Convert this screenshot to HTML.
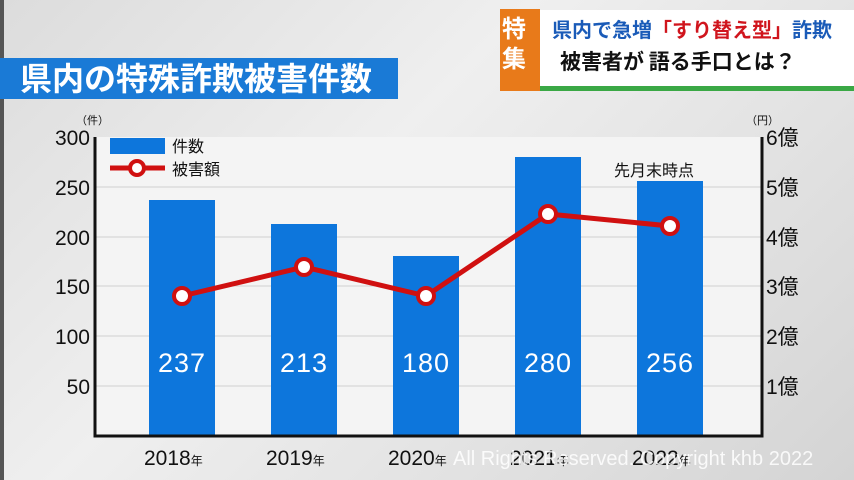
<!DOCTYPE html>
<html><head><meta charset="utf-8"><style>
body{margin:0;width:854px;height:480px;overflow:hidden;background:linear-gradient(135deg,#dcdcdc,#efefef 40%,#e2e2e2 70%,#d4d4d4);font-family:"Liberation Sans","Noto Sans CJK JP",sans-serif;position:relative}
.a{position:absolute}
</style></head><body>
<div class="a" style="left:0;top:0;width:4px;height:480px;background:#555"></div>
<div class="a" style="left:0;top:58px;width:398px;height:41px;background:#1a7ad6"></div>
<div class="a" style="left:20px;top:56px;color:#fff;font-size:32px;font-weight:bold;letter-spacing:0px;font-family:'Noto Sans CJK JP',sans-serif;line-height:42px">県内の特殊詐欺被害件数</div>
<div class="a" style="left:500px;top:9px;width:40px;height:82px;background:#e87a1a"></div>
<div class="a" style="left:502px;top:12px;color:#fff;font-size:24px;font-weight:bold;line-height:30px;font-family:'Noto Sans CJK JP',sans-serif">特<br>集</div>
<div class="a" style="left:540px;top:10px;width:314px;height:76px;background:#fff;border-bottom:5px solid #3aa845"></div>
<div class="a" style="left:552px;top:14px;font-size:20px;font-weight:bold;color:#1a5bb8;font-family:'Noto Sans CJK JP',sans-serif;white-space:nowrap">県内で急増<span style="color:#d0151d">「すり替え型」</span>詐欺</div>
<div class="a" style="left:560px;top:46px;font-size:21px;font-weight:bold;color:#111;font-family:'Noto Sans CJK JP',sans-serif;white-space:nowrap">被害者が 語る手口とは？</div>
<svg class="a" style="left:0;top:0" width="854" height="480">
<rect x="95" y="137" width="667" height="299" fill="#f4f4f4"/>
<g stroke="#cfcfcf" stroke-width="1">
<line x1="95" x2="762" y1="187" y2="187"/><line x1="95" x2="762" y1="237" y2="237"/><line x1="95" x2="762" y1="286" y2="286"/><line x1="95" x2="762" y1="336" y2="336"/><line x1="95" x2="762" y1="386" y2="386"/></g>
<g fill="#0d76dc">
<rect x="149" y="200" width="66" height="236"/><rect x="271" y="224" width="66" height="212"/><rect x="393" y="256" width="66" height="180"/><rect x="515" y="157" width="66" height="279"/><rect x="637" y="181" width="66" height="255"/>
<rect x="110" y="138" width="55" height="16"/></g>
<path d="M95 137V436H762V137" fill="none" stroke="#111" stroke-width="3"/>
<g font-size="27" fill="#fff" text-anchor="middle" font-family="Liberation Sans" letter-spacing="1"><text x="182" y="372">237</text><text x="304" y="372">213</text><text x="426" y="372">180</text><text x="548" y="372">280</text><text x="670" y="372">256</text></g>
<polyline points="182,296 304,267 426,296 548,214 670,226" fill="none" stroke="#d01010" stroke-width="5"/>
<line x1="110" x2="165" y1="168" y2="168" stroke="#d01010" stroke-width="5"/>
<g fill="#fff" stroke="#d01010" stroke-width="4"><circle cx="182" cy="296" r="8"/><circle cx="304" cy="267" r="8"/><circle cx="426" cy="296" r="8"/><circle cx="548" cy="214" r="8"/><circle cx="670" cy="226" r="8"/><circle cx="137" cy="168" r="7"/></g>
<g font-size="21" fill="#111" text-anchor="end"><text x="90" y="145">300</text><text x="90" y="195">250</text><text x="90" y="245">200</text><text x="90" y="294">150</text><text x="90" y="344">100</text><text x="90" y="394">50</text></g>
<g font-size="21" fill="#111" font-family="Liberation Sans,Noto Sans CJK JP"><text x="766" y="145">6億</text><text x="766" y="195">5億</text><text x="766" y="245">4億</text><text x="766" y="294">3億</text><text x="766" y="344">2億</text><text x="766" y="394">1億</text></g>
<g font-size="11" fill="#111" font-family="Noto Sans CJK JP"><text x="76" y="124">（件）</text><text x="746" y="124">（円）</text></g>
<g font-size="16" fill="#111" font-family="Noto Sans CJK JP"><text x="172" y="152">件数</text><text x="172" y="175">被害額</text><text x="614" y="176">先月末時点</text></g>
<g font-size="21" fill="#111"><text x="144" y="465">2018<tspan font-size="12">年</tspan></text><text x="266" y="465">2019<tspan font-size="12">年</tspan></text><text x="388" y="465">2020<tspan font-size="12">年</tspan></text><text x="510" y="465">2021<tspan font-size="12">年</tspan></text><text x="632" y="465">2022<tspan font-size="12">年</tspan></text></g>
<text x="453" y="465" font-size="20" fill="#fff" fill-opacity="0.85">All Rights Reserved. Copyright khb 2022</text>
</svg>
</body></html>
